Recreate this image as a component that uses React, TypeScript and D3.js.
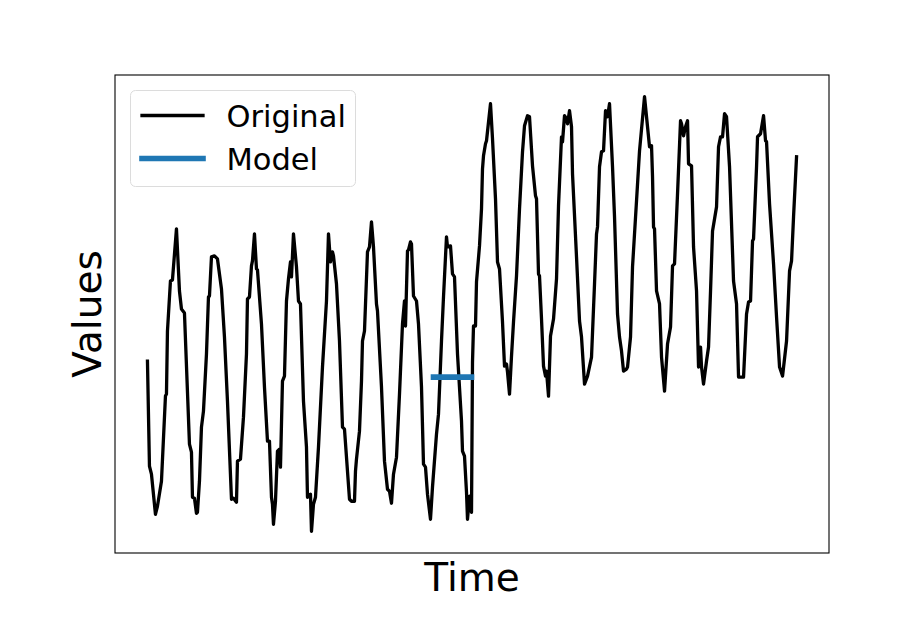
import React, { useEffect, useRef } from "react";
import * as d3 from "d3";

// Original series (time, value)
const times = [
  0.0, 0.2, 0.4, 0.8, 1.0, 1.4, 1.8, 1.9, 2.0, 2.3, 2.5, 2.9, 3.2, 3.4, 3.7, 4.2, 4.4, 4.5, 4.7, 4.9,
  5.0, 5.2, 5.4, 5.6, 5.9, 6.1, 6.2, 6.4, 6.7, 7.0, 7.4, 7.7, 8.0, 8.4, 8.6, 8.9, 9.0, 9.3, 9.6, 9.9,
  10.0, 10.2, 10.4, 10.5, 10.7, 10.9, 11.0, 11.4, 11.7, 12.0, 12.2, 12.4, 12.5, 12.6, 12.8, 13.0, 13.2, 13.3, 13.5, 13.7,
  13.9, 14.1, 14.3, 14.4, 14.6, 14.9, 15.1, 15.3, 15.6, 15.9, 16.0, 16.3, 16.4, 16.6, 16.8, 17.1, 17.4, 17.5, 17.9, 18.1,
  18.3, 18.5, 18.6, 18.9, 19.2, 19.5, 19.7, 19.9, 20.2, 20.4, 20.7, 20.8, 20.9, 21.2, 21.4, 21.5, 21.7, 22.0, 22.2, 22.4,
  22.6, 22.9, 23.0, 23.4, 23.7, 24.0, 24.2, 24.4, 24.6, 24.9, 25.2, 25.5, 25.7, 25.8, 26.0, 26.1, 26.3, 26.4, 26.6, 26.9,
  27.1, 27.4, 27.6, 27.8, 28.0, 28.3, 28.5, 28.9, 29.1, 29.4, 29.6, 29.9, 30.0, 30.3, 30.5, 30.7, 31.0, 31.4, 31.5, 31.7,
  31.9, 32.0, 32.2, 32.4, 32.5, 32.6, 32.8, 32.9, 33.2, 33.4, 33.5, 33.6, 33.8, 33.9, 34.3, 34.5, 34.8, 35.0, 35.2, 35.5,
  35.7, 35.9, 36.0, 36.2, 36.4, 36.6, 36.9, 37.2, 37.5, 37.7, 38.0, 38.2, 38.5, 38.8, 38.9, 39.1, 39.2, 39.4, 39.6, 39.8,
  39.9, 40.1, 40.3, 40.6, 40.9, 41.1, 41.4, 41.5, 41.7, 41.9, 42.0, 42.2, 42.4, 42.5, 42.9, 43.2, 43.4, 43.7, 44.0, 44.4,
  44.7, 44.9, 45.0, 45.2, 45.4, 45.6, 45.8, 46.0, 46.2, 46.5, 46.7, 47.0, 47.2, 47.4, 47.6, 47.9, 48.0, 48.3, 48.5, 48.9,
  49.2, 49.7, 50.0, 50.2, 50.4, 50.5, 50.6, 50.7, 50.9, 51.2, 51.4, 51.7, 52.0, 52.3, 52.5, 52.7, 53.0, 53.3, 53.4, 53.6,
  53.8, 54.0, 54.1, 54.4, 54.6, 54.9, 55.1, 55.3, 55.4, 55.6, 55.9, 56.1, 56.3, 56.5, 56.9, 57.1, 57.3, 57.5, 57.7, 57.9,
  58.2, 58.6, 58.9, 59.1, 59.6, 59.9, 60.1, 60.3, 60.5, 60.6, 60.9, 61.0, 61.3, 61.6, 61.8, 61.9, 62.2, 62.6, 62.9, 63.2,
  63.5, 63.9, 64.2, 64.4, 64.6, 64.9,
];

const values = [
  0.18, -0.87, -0.95, -1.35, -1.27, -1.02, -0.17, -0.15, 0.48, 0.98, 0.99, 1.5, 0.88, 0.7, 0.66, -0.65, -0.73, -1.18, -1.19, -1.34,
  -1.33, -1.02, -0.48, -0.32, 0.25, 0.82, 0.83, 1.22, 1.23, 1.2, 0.9, 0.42, -0.22, -1.2, -1.19, -1.23, -0.82, -0.8, -0.38, 0.25,
  0.8, 0.82, 1.13, 1.18, 1.45, 1.1, 1.09, 0.55, -0.08, -0.62, -0.62, -1.18, -1.25, -1.45, -1.22, -0.72, -0.7, -0.88, -0.02, 0.03,
  0.78, 1.0, 1.17, 1.02, 1.45, 1.12, 0.78, 0.75, -0.22, -0.68, -1.18, -1.15, -1.52, -1.25, -1.18, -0.68, -0.08, 0.12, 0.78, 1.45,
  1.17, 1.27, 1.23, 0.95, 0.38, -0.48, -0.5, -0.78, -1.2, -1.22, -1.22, -0.92, -0.8, -0.52, -0.02, 0.38, 0.48, 1.27, 1.32, 1.57,
  1.32, 0.75, 0.68, -0.08, -0.82, -1.1, -1.12, -1.24, -0.95, -0.78, -0.15, 0.55, 0.78, 0.53, 1.28, 1.29, 1.37, 1.35, 0.83, 0.78,
  0.55, -0.08, -0.85, -0.88, -1.15, -1.4, -1.08, -0.55, -0.35, 0.38, 0.82, 1.42, 1.32, 1.33, 1.05, 1.02, 0.25, -0.42, -0.72, -0.77,
  -1.13, -1.4, -1.17, -1.33, 0.17, 0.53, 0.53, 0.97, 1.33, 1.7, 2.1, 2.23, 2.35, 2.38, 2.75, 2.4, 1.8, 1.17, 1.1, 0.57,
  0.13, 0.15, 0.07, -0.15, 0.23, 0.57, 1.03, 1.7, 2.27, 2.53, 2.63, 2.62, 2.13, 1.83, 1.8, 1.05, 1.03, 0.6, 0.13, 0.03,
  0.08, -0.17, 0.43, 0.6, 1.0, 1.73, 2.42, 2.37, 2.63, 2.6, 2.55, 2.68, 2.52, 2.05, 1.22, 0.58, 0.42, -0.05, 0.03, 0.22,
  0.95, 1.45, 1.52, 2.12, 2.27, 2.28, 2.68, 2.62, 2.75, 2.12, 1.62, 0.65, 0.42, 0.28, 0.08, 0.1, 0.12, 0.42, 1.12, 1.78,
  2.28, 2.82, 2.52, 2.32, 2.33, 2.02, 1.52, 1.5, 0.88, 0.75, 0.22, -0.12, 0.35, 0.52, 1.13, 1.15, 1.85, 2.58, 2.55, 2.43,
  2.52, 2.58, 2.15, 2.13, 1.32, 0.88, 0.12, 0.32, 0.12, -0.05, 0.18, 0.32, 0.88, 1.48, 1.72, 2.32, 2.42, 2.42, 2.65, 2.62,
  2.12, 0.98, 0.75, 0.02, 0.02, 0.65, 0.77, 0.78, 1.38, 1.4, 2.12, 2.42, 2.45, 2.63, 2.38, 2.37, 1.75, 1.15, 0.62, 0.12,
  0.03, 0.38, 1.08, 1.18, 1.62, 2.22,
];

// Model: flat forecast over one period
const modelTimes = [28.6, 32.4];
const modelValues = [0.02, 0.02];

const legendLabels = ["Original", "Model"];
const legendColors = ["#000000", "#1f77b4"];
const legendWidths = [3.3, 5.6];

const App = () => {
  const ref = useRef(null);

  useEffect(() => {
    const root = d3.select(ref.current);
    root.selectAll("*").remove();

    const W = 921;
    const H = 633;
    const margin = { top: 75, right: 92, bottom: 80, left: 115 };
    const width = W - margin.left - margin.right;
    const height = H - margin.top - margin.bottom;
    const font = "'DejaVu Sans', sans-serif";

    const svg = root
      .append("svg")
      .attr("width", W)
      .attr("height", H)
      .style("position", "absolute")
      .style("left", 0)
      .style("top", 0)
      .style("background", "#fff");

    const g = svg.append("g").attr("transform", `translate(${margin.left},${margin.top})`);

    // matplotlib-like 5% margins
    const xExt = d3.extent(times);
    const yExt = d3.extent(values);
    const xPad = (xExt[1] - xExt[0]) * 0.05;
    const yPad = (yExt[1] - yExt[0]) * 0.05;
    const x = d3.scaleLinear().domain([xExt[0] - xPad, xExt[1] + xPad]).range([0, width]);
    const y = d3.scaleLinear().domain([yExt[0] - yPad, yExt[1] + yPad]).range([height, 0]);

    const line = d3
      .line()
      .x((d) => x(d[0]))
      .y((d) => y(d[1]));

    g.append("path")
      .datum(times.map((t, i) => [t, values[i]]))
      .attr("d", line)
      .attr("fill", "none")
      .attr("stroke", "#000")
      .attr("stroke-width", 3.3)
      .attr("stroke-linejoin", "round")
      .attr("stroke-linecap", "square");

    g.append("path")
      .datum(modelTimes.map((t, i) => [t, modelValues[i]]))
      .attr("d", line)
      .attr("fill", "none")
      .attr("stroke", "#1f77b4")
      .attr("stroke-width", 5.6)
      .attr("stroke-linecap", "square");

    // Frame
    g.append("rect")
      .attr("width", width)
      .attr("height", height)
      .attr("fill", "none")
      .attr("stroke", "#000")
      .attr("stroke-width", 1.1);

    // Axis labels
    svg
      .append("text")
      .attr("x", margin.left + width / 2)
      .attr("y", 591)
      .attr("text-anchor", "middle")
      .style("font-family", font)
      .style("font-size", "39px")
      .text("Time");

    svg
      .append("text")
      .attr("transform", `translate(101,${margin.top + height / 2}) rotate(-90)`)
      .attr("text-anchor", "middle")
      .style("font-family", font)
      .style("font-size", "39px")
      .text("Values");

    // Legend
    const legend = svg.append("g").attr("transform", "translate(130.5,90.5)");
    legend
      .append("rect")
      .attr("width", 225)
      .attr("height", 96)
      .attr("rx", 5)
      .attr("fill", "rgba(255,255,255,0.8)")
      .attr("stroke", "#dcdcdc")
      .attr("stroke-width", 1);

    legendLabels.forEach((label, i) => {
      const cy = 25 + i * 43;
      legend
        .append("line")
        .attr("x1", 11.5)
        .attr("x2", 72.5)
        .attr("y1", cy)
        .attr("y2", cy)
        .attr("stroke", legendColors[i])
        .attr("stroke-width", legendWidths[i])
        .attr("stroke-linecap", "square");
      legend
        .append("text")
        .attr("x", 96)
        .attr("y", cy + 11)
        .style("font-family", font)
        .style("font-size", "30.5px")
        .text(label);
    });
  }, []);

  return <div ref={ref}></div>;
};

export default App;
